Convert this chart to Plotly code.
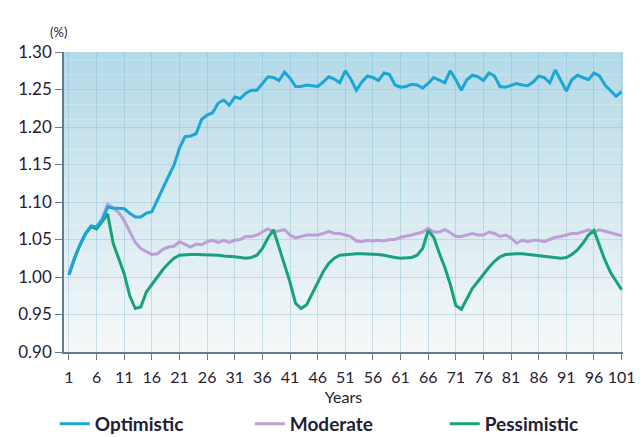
import plotly.graph_objects as go

# data
years = list(range(1, 102))

optimistic = [
    1.003, 1.025, 1.043, 1.058, 1.068, 1.067, 1.076, 1.093, 1.092, 1.092,
    1.091, 1.085, 1.080, 1.080, 1.085, 1.087, 1.103, 1.120, 1.134, 1.149,
    1.172, 1.187, 1.188, 1.191, 1.210, 1.216, 1.219, 1.232, 1.236, 1.229,
    1.240, 1.238, 1.245, 1.249, 1.249, 1.258, 1.267, 1.266, 1.262, 1.273,
    1.265, 1.254, 1.254, 1.256, 1.255, 1.254, 1.260, 1.267, 1.264, 1.259,
    1.275, 1.264, 1.249, 1.260, 1.268, 1.266, 1.262, 1.272, 1.270, 1.256,
    1.253, 1.254, 1.257, 1.256, 1.252, 1.258, 1.266, 1.263, 1.259, 1.275,
    1.263, 1.249, 1.263, 1.269, 1.267, 1.262, 1.272, 1.268, 1.254, 1.253,
    1.255, 1.258, 1.256, 1.255, 1.260, 1.268, 1.266, 1.259, 1.276, 1.263,
    1.248, 1.263, 1.269, 1.266, 1.263, 1.272, 1.268, 1.256, 1.248, 1.241,
    1.247,
]

moderate = [
    1.003, 1.025, 1.043, 1.058, 1.068, 1.066, 1.078, 1.097, 1.092, 1.086,
    1.075, 1.060, 1.046, 1.038, 1.034, 1.030, 1.031, 1.037, 1.040, 1.041,
    1.047, 1.044, 1.040, 1.044, 1.043, 1.047, 1.049, 1.046, 1.049, 1.046,
    1.049, 1.050, 1.054, 1.054, 1.056, 1.060, 1.064, 1.060, 1.061, 1.063,
    1.056, 1.052, 1.054, 1.056, 1.056, 1.056, 1.058, 1.061, 1.058, 1.058,
    1.056, 1.054, 1.048, 1.047, 1.049, 1.048, 1.049, 1.048, 1.050, 1.050,
    1.053, 1.054, 1.056, 1.058, 1.060, 1.065, 1.060, 1.060, 1.063, 1.059,
    1.054, 1.054, 1.056, 1.058, 1.056, 1.056, 1.060, 1.058, 1.054, 1.056,
    1.052, 1.045, 1.049, 1.047, 1.049, 1.049, 1.047, 1.050, 1.053, 1.054,
    1.056, 1.058, 1.058, 1.061, 1.063, 1.060, 1.063, 1.061, 1.059, 1.056,
    1.055,
]

pessimistic = [
    1.003, 1.025, 1.043, 1.058, 1.067, 1.064, 1.074, 1.084, 1.045, 1.024,
    1.004, 0.975, 0.958, 0.960, 0.980, 0.990, 1.000, 1.010, 1.018, 1.025,
    1.029, 1.030, 1.030, 1.030, 1.030, 1.030, 1.029, 1.029, 1.028, 1.028,
    1.027, 1.026, 1.025, 1.026, 1.029, 1.038, 1.052, 1.063, 1.040, 1.018,
    0.993, 0.965, 0.958, 0.963, 0.978, 0.994, 1.007, 1.018, 1.025, 1.029,
    1.030, 1.031, 1.031, 1.031, 1.031, 1.030, 1.030, 1.029, 1.027, 1.026,
    1.025, 1.025, 1.026, 1.029, 1.038, 1.062, 1.053, 1.032, 1.013, 0.990,
    0.962, 0.957, 0.972, 0.985, 0.994, 1.004, 1.013, 1.021, 1.027, 1.030,
    1.031, 1.031, 1.031, 1.030, 1.030, 1.029, 1.028, 1.027, 1.026, 1.025,
    1.026, 1.030, 1.036, 1.045, 1.056, 1.062, 1.042, 1.022, 1.006, 0.994,
    0.983,
]

x_ticks = list(range(1, 102, 5))
y_ticks = [0.90, 0.95, 1.00, 1.05, 1.10, 1.15, 1.20, 1.25, 1.30]

font = "Lato, 'Open Sans', sans-serif"
ink = "#1f2033"
axis_col = "#5f7d92"
grid_col = "rgba(130,185,212,0.40)"

fig = go.Figure()
# moderate and pessimistic first so the optimistic line sits on top
fig.add_trace(go.Scatter(x=years, y=moderate, name="Moderate", mode="lines",
                         legendrank=2, line=dict(color="#bb9fd6", width=3)))
fig.add_trace(go.Scatter(x=years, y=pessimistic, name="Pessimistic", mode="lines",
                         legendrank=3, line=dict(color="#16a37b", width=3)))
fig.add_trace(go.Scatter(x=years, y=optimistic, name="Optimistic", mode="lines",
                         legendrank=1, line=dict(color="#1ba7d5", width=3)))

# gradient background: light blue on top fading to near white
n = 40
top = (180, 218, 232)
bot = (246, 248, 248)
shapes = []
for i in range(n):
    t = i / (n - 1)
    c = tuple(round(top[k] + (bot[k] - top[k]) * t) for k in range(3))
    shapes.append(dict(type="rect", xref="paper", yref="paper",
                       x0=0, x1=1, y0=1 - (i + 1) / n, y1=1 - i / n,
                       fillcolor="rgb(%d,%d,%d)" % c, line=dict(width=0),
                       layer="below"))

# the page body adds an 8px offset, so the figure is 8px smaller
fig.update_layout(
    width=636, height=429,
    margin=dict(l=56, r=21, t=44, b=85, autoexpand=False),
    paper_bgcolor="white",
    plot_bgcolor="rgb(246,248,248)",
    shapes=shapes,
    font=dict(family=font, color=ink),
    legend=dict(orientation="h", x=-0.0165, xanchor="left", y=-0.24, yanchor="middle",
                font=dict(size=19, weight=700, color=ink),
                entrywidth=150, bgcolor="rgba(0,0,0,0)"),
    annotations=[dict(text="(%)", xref="paper", yref="paper", x=-0.028, y=1.1,
                      showarrow=False, font=dict(size=13, color=ink))],
)
fig.update_xaxes(range=[0.1, 101.25], tickvals=x_ticks, ticks="outside", ticklen=6,
                 tickcolor=axis_col, showline=True, linecolor=axis_col, linewidth=1.5,
                 showgrid=True, gridcolor=grid_col, gridwidth=1,
                 zeroline=False, tickfont=dict(size=16, color=ink), ticklabelstandoff=4,
                 title=dict(text="Years", font=dict(size=16, color=ink), standoff=7))
fig.update_yaxes(range=[0.9, 1.3], tickvals=y_ticks, tickformat=".2f",
                 ticks="outside", ticklen=7, tickcolor=axis_col,
                 showline=True, linecolor=axis_col, linewidth=1.5,
                 showgrid=True, gridcolor=grid_col, gridwidth=1,
                 zeroline=False, tickfont=dict(size=17, color=ink))

fig.write_html("out.html")
